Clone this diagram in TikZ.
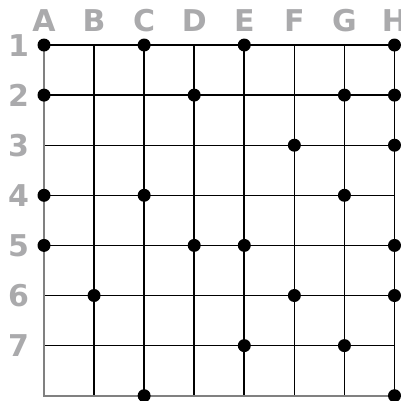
\documentclass[tikz,border=0pt]{standalone}
\usepackage{fontspec}
\newfontfamily\lblfont{DejaVu Sans}[BoldFont={DejaVu Sans Bold}]
\definecolor{lblgray}{RGB}{170,170,172}
\definecolor{edgegray}{RGB}{128,128,128}
\begin{document}
\begin{tikzpicture}[x=1pt,y=-1pt,
  hline/.style={line width=1.3pt,black},
  vline/.style={line width=1.6pt,black},
  border/.style={line width=1.7pt,edgegray},
  dot/.style={circle,fill=black,inner sep=0pt,minimum size=13pt},
  lbl/.style={font=\lblfont\bfseries\fontsize{30}{30}\selectfont,text=lblgray,inner sep=0pt,anchor=center}]
\useasboundingbox (0,0) rectangle (401,400);
\clip (0,0) rectangle (401,400);
% grid coordinates
\foreach \c [count=\i from 0] in {A,B,C,D,E,F,G,H}{
  \foreach \r [count=\j from 0] in {1,2,3,4,5,6,7,8}{
    \coordinate (\c\r) at ({44+50.07*\i},{45+50.1*\j});
  }
}
% labels
\foreach \c [count=\i from 0] in {A,B,C,D,E,F,G,H}{
  \node[lbl] (col\c) at ({44+50.07*\i},20.5) {\c};
}
\foreach \r [count=\j from 0] in {1,2,3,4,5,6,7}{
  \node[lbl] (row\r) at (18.5,{45.5+50*\j}) {\r};
}
% horizontal lines
\foreach \r in {1,...,7}{ \draw[hline] (A\r) -- (H\r); }
% vertical lines
\foreach \c in {B,C,D,E,F,G,H}{ \draw[vline] (\c1) -- (\c8); }
% borders
\draw[border] (A1) -- (A8) -- (H8);
\draw[hline] (A1) -- (H1);
% dots
\foreach \p in {A1,C1,E1,H1,A2,D2,G2,H2,F3,H3,A4,C4,G4,A5,D5,E5,H5,B6,F6,H6,E7,G7,C8,H8}{
  \node[dot] (d\p) at (\p) {};
}
\end{tikzpicture}
\end{document}
